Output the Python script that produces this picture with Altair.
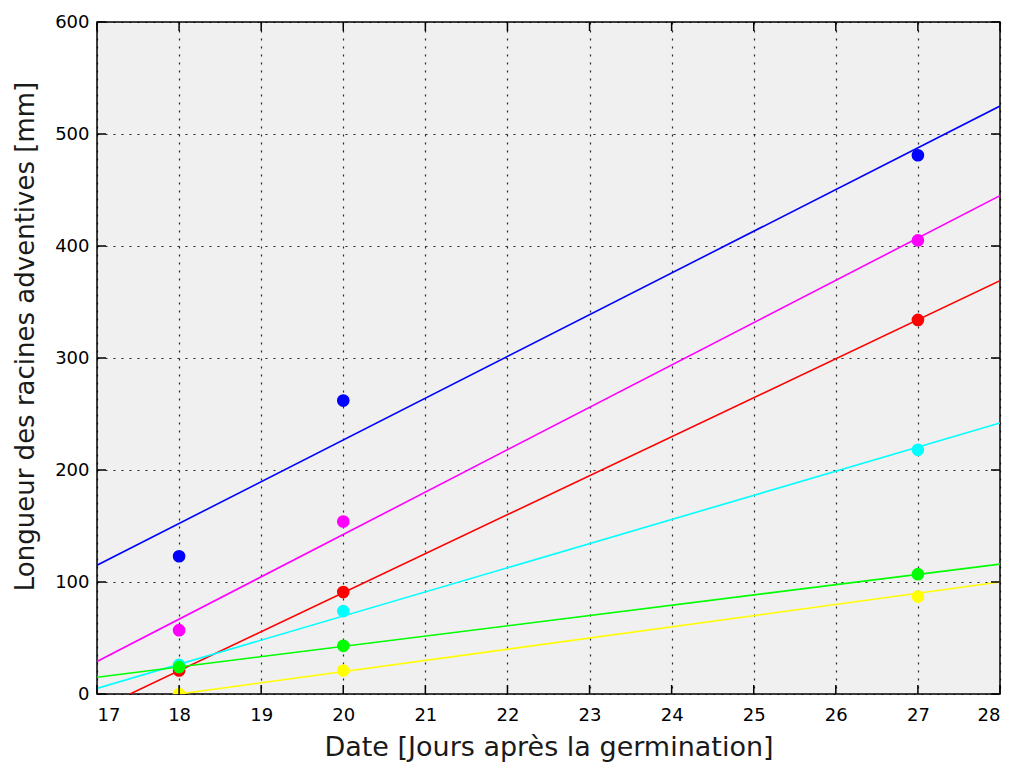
import altair as alt
import pandas as pd

# Measurement days
days = [18, 20, 27]

# Observed root lengths [mm] for each series
serie_bleue = [123, 262, 481]
serie_magenta = [57, 154, 405]
serie_rouge = [21, 91, 334]
serie_cyan = [26, 74, 218]
serie_verte = [24, 43, 107]
serie_jaune = [0, 21, 87]

# Linear fit lines (values at the ends of the x range)
fit_days = [17, 28]
fit_bleue = [115, 525]
fit_magenta = [29, 445]
fit_rouge = [-14, 369]
fit_cyan = [5, 242]
fit_verte = [15, 116]
fit_jaune = [-10, 100]

series_names = ["bleu", "magenta", "rouge", "cyan", "vert", "jaune"]
series_colors = ["#0000FF", "#FF00FF", "#FF0000", "#00FFFF", "#00FF00", "#FFFF00"]

x_ticks = list(range(17, 29))
y_ticks = [0, 100, 200, 300, 400, 500, 600]

W, H = 903, 672

obs = [serie_bleue, serie_magenta, serie_rouge, serie_cyan, serie_verte, serie_jaune]
fits = [fit_bleue, fit_magenta, fit_rouge, fit_cyan, fit_verte, fit_jaune]

pts_rows = []
for name, vals in zip(series_names, obs):
    for d, v in zip(days, vals):
        pts_rows.append({"serie": name, "jour": d, "longueur": v})
pts = pd.DataFrame(pts_rows)

fit_rows = []
for name, vals in zip(series_names, fits):
    for d, v in zip(fit_days, vals):
        fit_rows.append({"serie": name, "jour": d, "longueur": v})
fit_df = pd.DataFrame(fit_rows)

xscale = alt.Scale(domain=[17, 28], nice=False, zero=False)
yscale = alt.Scale(domain=[0, 600], nice=False, zero=True)
cscale = alt.Scale(domain=series_names, range=series_colors)

x_axis = alt.Axis(
    values=x_ticks, grid=True, ticks=False, domain=False,
    title="Date [Jours après la germination]",
    labelPadding=12, titleX=W / 2, titleY=61, titleBaseline="alphabetic",
    titleAnchor="middle",
)
y_axis = alt.Axis(
    values=y_ticks, grid=True, ticks=False, domain=False,
    title="Longueur des racines adventives [mm]",
    labelPadding=8, titleX=-64, titleY=314, titleBaseline="alphabetic",
    titleAngle=-90, titleAnchor="middle",
)

lines = alt.Chart(fit_df).mark_line(strokeWidth=1.6, clip=True).encode(
    x=alt.X("jour:Q", scale=xscale, axis=x_axis),
    y=alt.Y("longueur:Q", scale=yscale, axis=y_axis),
    color=alt.Color("serie:N", scale=cscale, legend=None),
    detail="serie:N",
)

points = alt.Chart(pts).mark_point(filled=True, shape="circle", size=160, opacity=1, clip=True).encode(
    x=alt.X("jour:Q", scale=xscale, axis=x_axis),
    y=alt.Y("longueur:Q", scale=yscale, axis=y_axis),
    color=alt.Color("serie:N", scale=cscale, legend=None),
)

xt = pd.DataFrame({"t": x_ticks})
yt = pd.DataFrame({"t": y_ticks})

tick_style = dict(color="#000000", strokeWidth=1.5)
ticks_bottom = alt.Chart(xt).mark_rule(**tick_style).encode(
    x=alt.X("t:Q", scale=xscale, axis=x_axis), y=alt.value(H), y2=alt.value(H - 9)
)
ticks_top = alt.Chart(xt).mark_rule(**tick_style).encode(
    x=alt.X("t:Q", scale=xscale, axis=x_axis), y=alt.value(0), y2=alt.value(9)
)
ticks_left = alt.Chart(yt).mark_rule(**tick_style).encode(
    y=alt.Y("t:Q", scale=yscale, axis=y_axis), x=alt.value(0), x2=alt.value(9)
)
ticks_right = alt.Chart(yt).mark_rule(**tick_style).encode(
    y=alt.Y("t:Q", scale=yscale, axis=y_axis), x=alt.value(W - 9), x2=alt.value(W)
)

chart = alt.layer(
    lines, points, ticks_bottom, ticks_top, ticks_left, ticks_right
).properties(
    width=W, height=H,
    autosize=alt.AutoSizeParams(type="none"),
    padding={"left": 89, "top": 14, "right": 2, "bottom": 69},
    background="#FFFFFF",
).configure_view(
    fill="#F0F0F0", stroke="#000000", strokeWidth=1.5
).configure_axis(
    gridColor="#000000", gridDash=[2, 6], gridWidth=1.2, gridOpacity=0.85,
    labelFont="DejaVu Sans", labelFontSize=18, labelColor="#000000",
    titleFont="DejaVu Sans", titleFontWeight="normal", titleColor="#1a1a1a",
).configure_axisX(titleFontSize=27).configure_axisY(titleFontSize=26)

chart.save("out.html", embed_options={"renderer": "svg", "actions": False})
